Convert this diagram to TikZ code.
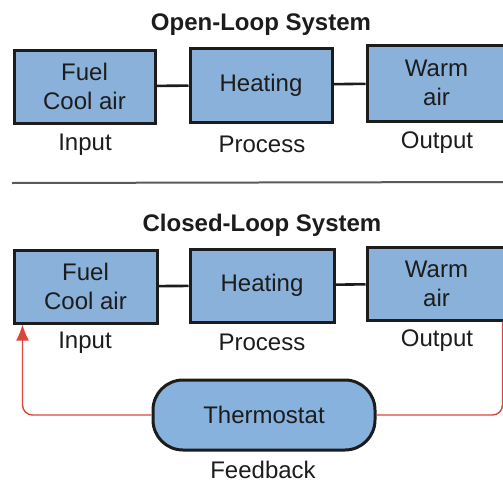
\documentclass[tikz,border=0pt]{standalone}
\usepackage{fontspec}
\setmainfont{Liberation Sans}
\usetikzlibrary{calc,arrows.meta}
\definecolor{boxblue}{HTML}{8AB1D9}
\definecolor{thermo}{HTML}{87B2DE}
\definecolor{loopred}{HTML}{D9473C}
\definecolor{ink}{HTML}{1C1C1C}
\definecolor{rule}{HTML}{5A5A5A}

\tikzset{
  stage/.style={draw=ink, fill=boxblue, line width=1.5pt, align=center,
    inner sep=0pt, font=\fontsize{12}{14.5}\selectfont},
  caption/.style={font=\fontsize{12}{14}\selectfont},
  heading/.style={font=\fontsize{12}{14}\selectfont\bfseries},
  link/.style={draw=ink, line width=1.3pt},
  feed/.style={draw=loopred, line width=0.7pt, rounded corners=5pt}
}

\begin{document}
\begin{tikzpicture}[x=0.5pt, y=-0.5pt, every node/.style={text=ink}]
  \useasboundingbox (0,0) rectangle (503,482);

  % Open loop: three stages in a row.
  \node[heading] (otitle) at (261,25) {Open-Loop System};
  \node[stage, minimum width=70.5pt, minimum height=36.5pt] (oin) at (84.5,86.5) {Fuel\\Cool air};
  \node[stage, minimum width=71pt, minimum height=37pt] (oproc) at (261,85) {Heating};
  \node[stage, minimum width=69.5pt, minimum height=38pt] (oout) at (436.5,83) {Warm\\air};
  \draw[link] (oin) -- (oproc);
  \draw[link] (oproc) -- (oout);
  \node[caption] (oinlab) at (85,145) {Input};
  \node[caption] (oproclab) at (262,144) {Process};
  \node[caption] (ooutlab) at (437,143) {Output};

  % Separator rule between the two systems.
  \draw[rule, line width=1pt] (12,183) -- (503,182);

  % Closed loop: same stages, plus the thermostat feeding back.
  \node[heading] (ctitle) at (262,225) {Closed-Loop System};
  \node[stage, minimum width=71.5pt, minimum height=36.5pt] (cin) at (85.5,286.5) {Fuel\\Cool air};
  \node[stage, minimum width=72pt, minimum height=36.5pt] (cproc) at (262,285.5) {Heating};
  \node[stage, minimum width=69.5pt, minimum height=36.5pt] (cout) at (436.5,283.5) {Warm\\air};
  \draw[link] (cin) -- (cproc);
  \draw[link] (cproc) -- (cout);
  \node[caption] (cinlab) at (85,343) {Input};
  \node[caption] (cproclab) at (262,342) {Process};
  \node[caption] (coutlab) at (437,341) {Output};

  \node[draw=ink, fill=thermo, line width=1.5pt, rounded corners=15pt,
    minimum width=111pt, minimum height=35pt, inner sep=0pt,
    font=\fontsize{12}{14}\selectfont] (tstat) at (264,415) {Thermostat};
  \node[caption] (fblab) at (263,470) {Feedback};

  % Red feedback path.
  \draw[feed] ($(cout.south east)+(-5,0)$) |- (tstat.east);
  \draw[feed, -{Latex[length=8pt,width=6.5pt]}] (tstat.west) -| ($(cin.south west)+(10,0)$);
\end{tikzpicture}
\end{document}
